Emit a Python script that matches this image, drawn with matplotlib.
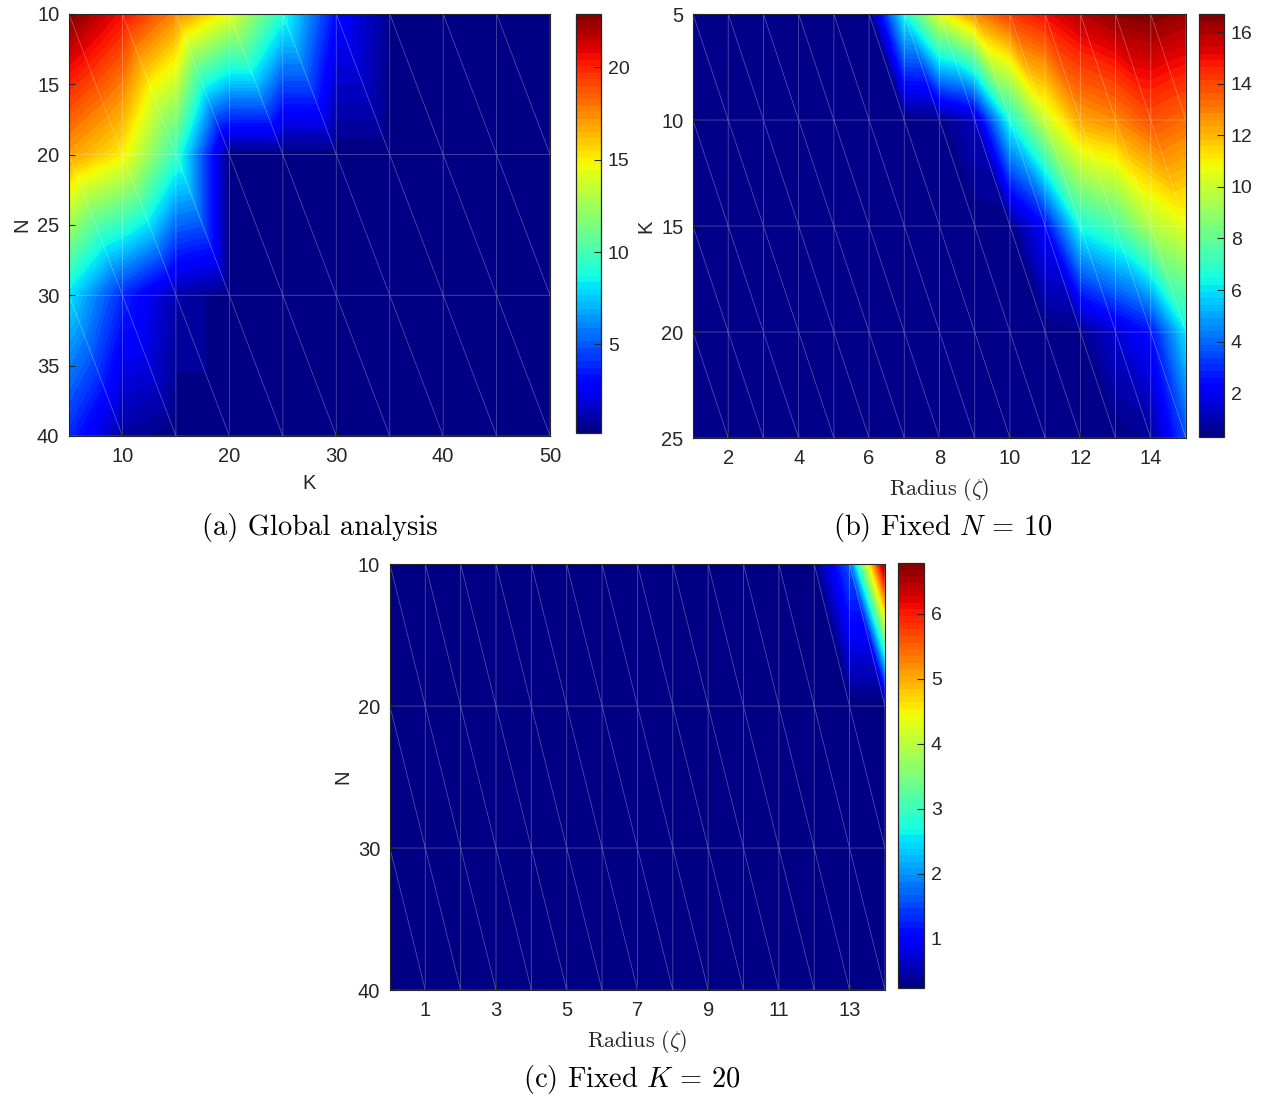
import numpy as np
import matplotlib
matplotlib.use('Agg')
import matplotlib.pyplot as plt
import matplotlib.tri as mtri

plt.rcParams['font.family'] = ['Liberation Sans', 'DejaVu Sans']
plt.rcParams['mathtext.fontset'] = 'cm'

# (a) Global analysis -- rows are N, columns are K
a_K = [5, 10, 15, 20, 25, 30, 35, 40, 45, 50]
a_N = [10, 20, 30, 40]
a_vals = [
    [22.9, 20.5, 17.5, 14.3, 9.0, 3.0, 0.5, 0.2, 0.2, 0.2],
    [17.0, 15.0, 9.5, 0.2, 0.2, 0.2, 0.2, 0.2, 0.2, 0.2],
    [8.0, 3.8, 1.0, 0.2, 0.2, 0.2, 0.2, 0.2, 0.2, 0.2],
    [3.8, 0.8, 0.2, 0.2, 0.2, 0.2, 0.2, 0.2, 0.2, 0.2],
]

# (b) Fixed N = 10 -- rows are K, columns are radius
b_R = list(range(1, 16))
b_K = [5, 10, 15, 20, 25]
b_vals = [
    [0.3, 0.3, 0.3, 0.3, 0.3, 0.3, 6.4, 10.5, 12.7, 14.2, 15.0, 15.9, 16.5, 16.7, 16.3],
    [0.3, 0.3, 0.3, 0.3, 0.3, 0.3, 0.3, 0.4, 1.2, 6.5, 10.0, 12.3, 12.8, 13.8, 13.3],
    [0.3, 0.3, 0.3, 0.3, 0.3, 0.3, 0.3, 0.3, 0.3, 0.4, 2.3, 6.5, 7.5, 9.5, 10.5],
    [0.3, 0.3, 0.3, 0.3, 0.3, 0.3, 0.3, 0.3, 0.3, 0.3, 0.3, 0.5, 1.5, 2.5, 6.0],
    [0.3, 0.3, 0.3, 0.3, 0.3, 0.3, 0.3, 0.3, 0.3, 0.3, 0.3, 0.3, 0.3, 0.6, 3.5],
]

# (c) Fixed K = 20 -- rows are N, columns are radius
c_R = list(range(0, 15))
c_N = [10, 20, 30, 40]
c_vals = [
    [0.24] * 12 + [0.3, 1.6, 6.78],
    [0.24] * 15,
    [0.24] * 15,
    [0.24] * 15,
]

DARK = '#262626'


def grid_tri(xs, ys):
    X, Y = np.meshgrid(xs, ys)
    nx = len(xs)
    tris = []
    for i in range(len(ys) - 1):
        for j in range(nx - 1):
            p = i * nx + j
            tris.append([p, p + 1, p + nx + 1])
            tris.append([p, p + nx, p + nx + 1])
    return mtri.Triangulation(X.ravel(), Y.ravel(), tris)


def panel(ax, cax, xs, ys, vals, xticks, yticks, cticks, xlabel, ylabel, xlsize=14.5):
    tri = grid_tri(xs, ys)
    z = np.asarray(vals, dtype=float).ravel()
    levels = np.linspace(z.min(), z.max(), 65)
    cs = ax.tricontourf(tri, z, levels=levels, cmap='jet')
    ax.triplot(tri, '-', color='white', lw=0.6, alpha=0.3)
    ax.set_xlim(xs[0], xs[-1])
    ax.set_ylim(ys[-1], ys[0])
    ax.set_xticks(xticks)
    ax.set_yticks(yticks)
    ax.tick_params(direction='in', length=4, labelsize=14.5, colors=DARK)
    ax.tick_params(axis='x', pad=8)
    ax.tick_params(axis='y', pad=7)
    for s in ax.spines.values():
        s.set_color(DARK)
        s.set_linewidth(0.8)
        s.set_zorder(5)
    ax.set_xlabel(xlabel, fontsize=xlsize, color=DARK, labelpad=6)
    ax.set_ylabel(ylabel, fontsize=14.5, color=DARK, labelpad=4)
    cb = plt.colorbar(cs, cax=cax, ticks=cticks)
    cb.outline.set_edgecolor(DARK)
    cb.outline.set_linewidth(0.9)
    cax.tick_params(direction='in', length=5, labelsize=14, colors=DARK, pad=5)
    return cs


fig = plt.figure(figsize=(12.66, 10.97), dpi=100)

ax_a = fig.add_axes([0.0545, 0.6026, 0.380, 0.3847])
cax_a = fig.add_axes([0.455, 0.6053, 0.0197, 0.382])
panel(ax_a, cax_a, a_K, a_N, a_vals, [10, 20, 30, 40, 50],
      [10, 15, 20, 25, 30, 35, 40], [5, 10, 15, 20], 'K', 'N')

ax_b = fig.add_axes([0.5474, 0.6007, 0.3894, 0.3865])
cax_b = fig.add_axes([0.9471, 0.6016, 0.0197, 0.3856])
panel(ax_b, cax_b, b_R, b_K, b_vals, list(range(2, 15, 2)),
      [5, 10, 15, 20, 25], list(range(2, 17, 2)),
      r'$\mathrm{Radius}\ (\zeta)$', 'K', xlsize=16)

ax_c = fig.add_axes([0.308, 0.0975, 0.391, 0.3883])
cax_c = fig.add_axes([0.7093, 0.0994, 0.0205, 0.3874])
panel(ax_c, cax_c, c_R, c_N, c_vals, list(range(1, 14, 2)),
      [10, 20, 30, 40], [1, 2, 3, 4, 5, 6],
      r'$\mathrm{Radius}\ (\zeta)$', 'N', xlsize=16)

fig.text(320 / 1266, 1 - 527 / 1097, '(a) Global analysis', family='cmr10',
         fontsize=20.5, ha='center', va='center')
fig.text(943 / 1266, 1 - 527 / 1097, r'(b) Fixed $N\,=\,10$', family='cmr10',
         fontsize=20.5, ha='center', va='center')
fig.text(632 / 1266, 1 - 1080 / 1097, r'(c) Fixed $K\,=\,20$', family='cmr10',
         fontsize=20.5, ha='center', va='center')

fig.savefig('out.png', dpi=100)
